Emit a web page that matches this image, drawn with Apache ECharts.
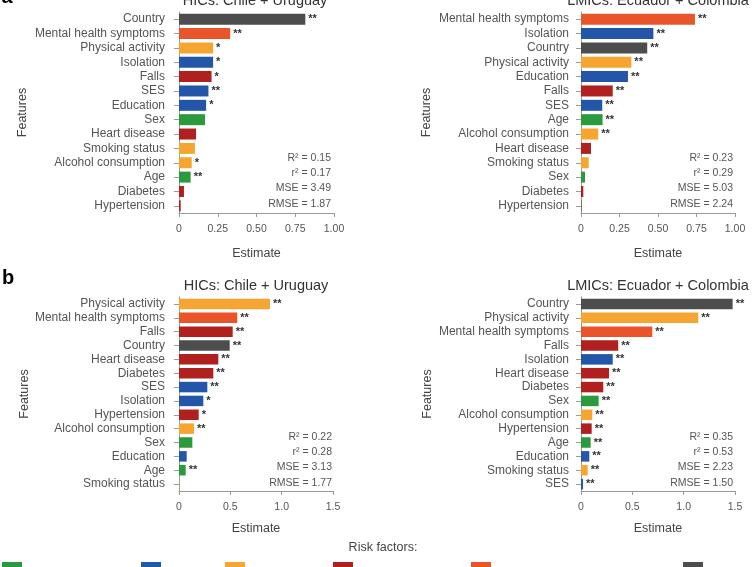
<!DOCTYPE html>
<html><head><meta charset="utf-8">
<script src="https://cdn.jsdelivr.net/npm/echarts@6/dist/echarts.min.js"></script>
<style>html,body{margin:0;padding:0;background:#fff}#c{width:756px;height:567px}</style>
</head><body><div id="c"></div>
<script>
// ---- Data ----
const groupNames = ["Demographic", "Social", "Lifestyle", "Physical health", "Mental health", "Country"];
const groupColors = ["#2b9a3c", "#2356a8", "#f7a531", "#b0201f", "#e9542b", "#4d4d4d"];
const featureGroup = {
  "Sex": 0, "Age": 0,
  "Isolation": 1, "SES": 1, "Education": 1,
  "Physical activity": 2, "Smoking status": 2, "Alcohol consumption": 2,
  "Falls": 3, "Heart disease": 3, "Diabetes": 3, "Hypertension": 3,
  "Mental health symptoms": 4,
  "Country": 5
};

const categoriesA_HIC = ["Country","Mental health symptoms","Physical activity","Isolation","Falls","SES","Education","Sex","Heart disease","Smoking status","Alcohol consumption","Age","Diabetes","Hypertension"];
const valuesA_HIC = [0.815,0.33,0.22,0.22,0.21,0.19,0.175,0.168,0.11,0.103,0.082,0.075,0.032,0.011];
const starsA_HIC = ["**","**","*","*","*","**","*","","","","*","**","",""];
const statsA_HIC = ["R\u00b2 = 0.15","r\u00b2 = 0.17","MSE = 3.49","RMSE = 1.87"];

const categoriesA_LMIC = ["Mental health symptoms","Isolation","Country","Physical activity","Education","Falls","SES","Age","Alcohol consumption","Heart disease","Smoking status","Sex","Diabetes","Hypertension"];
const valuesA_LMIC = [0.74,0.47,0.43,0.327,0.305,0.206,0.138,0.14,0.112,0.065,0.05,0.026,0.015,0.003];
const starsA_LMIC = ["**","**","**","**","**","**","**","**","**","","","","",""];
const statsA_LMIC = ["R\u00b2 = 0.23","r\u00b2 = 0.29","MSE = 5.03","RMSE = 2.24"];

const categoriesB_HIC = ["Physical activity","Mental health symptoms","Falls","Country","Heart disease","Diabetes","SES","Isolation","Hypertension","Alcohol consumption","Sex","Education","Age","Smoking status"];
const valuesB_HIC = [0.886,0.568,0.523,0.494,0.383,0.334,0.276,0.237,0.192,0.146,0.13,0.075,0.065,0.002];
const starsB_HIC = ["**","**","**","**","**","**","**","*","*","**","","","**",""];
const statsB_HIC = ["R\u00b2 = 0.22","r\u00b2 = 0.28","MSE = 3.13","RMSE = 1.77"];

const categoriesB_LMIC = ["Country","Physical activity","Mental health symptoms","Falls","Isolation","Heart disease","Diabetes","Sex","Alcohol consumption","Hypertension","Age","Education","Smoking status","SES"];
const valuesB_LMIC = [1.477,1.142,0.694,0.363,0.309,0.273,0.217,0.172,0.11,0.104,0.094,0.081,0.065,0.02];
const starsB_LMIC = ["**","**","**","**","**","**","**","**","**","**","**","**","**","**"];
const statsB_LMIC = ["R\u00b2 = 0.35","r\u00b2 = 0.53","MSE = 2.23","RMSE = 1.50"];

const titleHIC = "HICs: Chile + Uruguay";
const titleLMIC = "LMICs: Ecuador + Colombia";

// ---- Layout ----
const FONT = "Liberation Sans, Arial, sans-serif";
const panels = [
  {cats: categoriesA_HIC, vals: valuesA_HIC, stars: starsA_HIC, stats: statsA_HIC, title: titleHIC, titleX: 255,
   grid: {left: 179, top: 12, width: 155, height: 201}, max: 1, interval: 0.25, dec: 2, labelMargin: 14, nameGapY: 150, nameGapX: 34, statsX: 331, statsY: [158,173,188,204], barW: 11},
  {cats: categoriesA_LMIC, vals: valuesA_LMIC, stars: starsA_LMIC, stats: statsA_LMIC, title: titleLMIC, titleX: 658,
   grid: {left: 581, top: 12, width: 154, height: 201}, max: 1, interval: 0.25, dec: 2, labelMargin: 12, nameGapY: 148, nameGapX: 34, statsX: 733, statsY: [158,173,188,204], barW: 11},
  {cats: categoriesB_HIC, vals: valuesB_HIC, stars: starsB_HIC, stats: statsB_HIC, title: titleHIC, titleX: 256,
   grid: {left: 179, top: 297, width: 154, height: 194}, max: 1.5, interval: 0.5, dec: 1, labelMargin: 14, nameGapY: 145, nameGapX: 31, statsX: 332, statsY: [437,452,467,483], barW: 10.5},
  {cats: categoriesB_LMIC, vals: valuesB_LMIC, stars: starsB_LMIC, stats: statsB_LMIC, title: titleLMIC, titleX: 658,
   grid: {left: 581, top: 297, width: 154, height: 194}, max: 1.5, interval: 0.5, dec: 1, labelMargin: 12, nameGapY: 147, nameGapX: 31, statsX: 733, statsY: [437,452,467,483], barW: 10.5}
];

const grids = [], xAxes = [], yAxes = [], series = [], graphics = [];
panels.forEach((p, pi) => {
  grids.push(Object.assign({containLabel: false}, p.grid));
  xAxes.push({
    type: 'value', gridIndex: pi, min: 0, max: p.max, interval: p.interval,
    name: 'Estimate', nameLocation: 'middle', nameGap: p.nameGapX,
    nameTextStyle: {fontFamily: FONT, fontSize: 12.5, color: '#444'},
    axisLine: {show: true, lineStyle: {color: '#9a9a9a'}},
    axisTick: {show: true, length: 4, lineStyle: {color: '#9a9a9a'}},
    axisLabel: {fontFamily: FONT, fontSize: 10.5, color: '#555', margin: 11,
      formatter: v => v === 0 ? '0' : v.toFixed(p.dec)},
    splitLine: {show: false}
  });
  yAxes.push({
    type: 'category', gridIndex: pi, data: p.cats, inverse: true,
    name: 'Features', nameLocation: 'middle', nameGap: p.nameGapY, nameRotate: 90,
    nameTextStyle: {fontFamily: FONT, fontSize: 12.5, color: '#444'},
    axisLine: {show: true, lineStyle: {color: '#9a9a9a'}},
    axisTick: {show: true, alignWithLabel: true, length: 5, lineStyle: {color: '#9a9a9a'}},
    axisLabel: {fontFamily: FONT, fontSize: 12, color: '#555', margin: p.labelMargin, interval: 0},
    splitLine: {show: false}
  });
  groupNames.forEach((gName, gi) => {
    series.push({
      type: 'bar', name: gName, xAxisIndex: pi, yAxisIndex: pi, stack: 'p' + pi,
      barWidth: p.barW,
      itemStyle: {color: groupColors[gi]},
      data: p.cats.map((c, i) => featureGroup[c] === gi ? p.vals[i] : '-'),
      label: {show: true, position: 'right', distance: 3, fontFamily: FONT, fontSize: 11, fontWeight: 'bold', color: '#333',
        formatter: prm => p.stars[prm.dataIndex]},
      animation: false
    });
  });
  const ty = pi < 2 ? 1 : 286;
  graphics.push({type: 'text', x: p.titleX, y: ty,
    style: {text: p.title, fontFamily: FONT, fontSize: 14.5, fill: '#333', textAlign: 'center', textVerticalAlign: 'middle'}});
  p.stats.forEach((s, si) => {
    graphics.push({type: 'text', x: p.statsX, y: p.statsY[si],
      style: {text: s, fontFamily: FONT, fontSize: 10.5, fill: '#555', textAlign: 'right', textVerticalAlign: 'middle'}});
  });
});

graphics.push({type: 'text', x: 7, y: -3, style: {text: 'a', fontFamily: FONT, fontSize: 20, fontWeight: 'bold', fill: '#000', textAlign: 'center', textVerticalAlign: 'middle'}});
graphics.push({type: 'text', x: 8, y: 278, style: {text: 'b', fontFamily: FONT, fontSize: 20, fontWeight: 'bold', fill: '#000', textAlign: 'center', textVerticalAlign: 'middle'}});
graphics.push({type: 'text', x: 383, y: 548, style: {text: 'Risk factors:', fontFamily: FONT, fontSize: 12.5, fill: '#444', textAlign: 'center', textVerticalAlign: 'middle'}});

// legend swatch sits in the top of a taller item box so the labels fall below the visible area
const legendLefts = [2, 141, 225, 333, 471, 683];
const legends = groupNames.map((g, gi) => ({
  data: [g], left: legendLefts[gi], top: 562, padding: 0,
  itemWidth: 20, itemHeight: 30, selectedMode: false,
  icon: 'path://M0,0H20V12H0Z M0,29.9H0.1V30H0Z',
  textStyle: {fontFamily: FONT, fontSize: 11, color: '#444'}
}));

const chart = echarts.init(document.getElementById('c'), null, {renderer: 'canvas'});
chart.setOption({
  animation: false,
  backgroundColor: '#fff',
  grid: grids, xAxis: xAxes, yAxis: yAxes, series: series,
  legend: legends,
  graphic: graphics
});
</script>
</body></html>
